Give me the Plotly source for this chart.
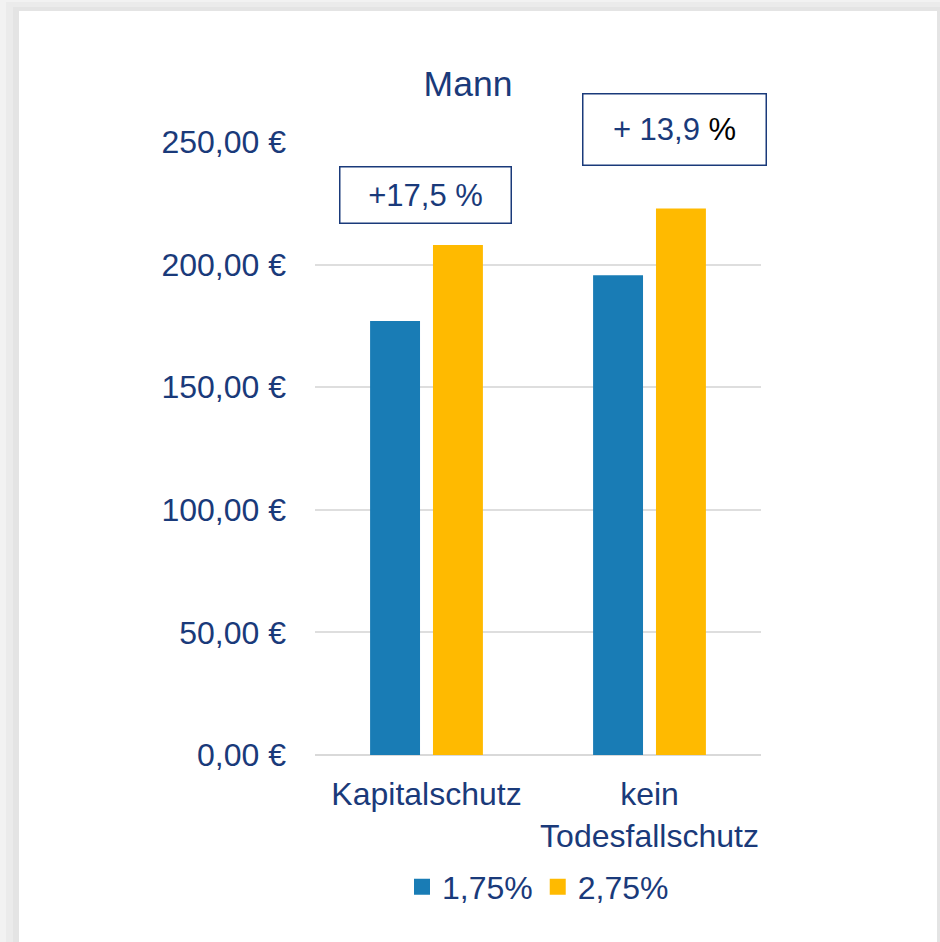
import plotly.graph_objects as go

categories = ["Kapitalschutz", "kein<br>Todesfallschutz"]
series_names = ["1,75%", "2,75%"]
values_175 = [177.0, 195.7]
values_275 = [208.0, 222.9]
changes = ["+17,5 %", "+ 13,9 <span style='color:#000000'>%</span>"]

NAVY = "#1a3a7a"
BLUE = "#197cb5"
GOLD = "#ffba00"
FONT = "Liberation Sans, Arial, sans-serif"

W, H = 940, 942
L, R, T, B = 315, 179, 142, 187
PW, PH = W - L - R, H - T - B


def px_x(px):
    return (px - L) / PW


def px_y(py):
    return (H - B - py) / PH


fig = go.Figure()
for name, vals, col in [(series_names[0], values_175, BLUE), (series_names[1], values_275, GOLD)]:
    fig.add_trace(go.Bar(x=categories, y=vals, name=name, marker=dict(color=col, line=dict(width=0)),
                         showlegend=False, hoverinfo="skip"))
for name, col in [(series_names[0], BLUE), (series_names[1], GOLD)]:
    fig.add_trace(go.Scatter(x=[None], y=[None], mode="markers", name=name,
                             marker=dict(symbol="square", size=16, color=col)))

shapes = [
    dict(type="rect", xref="paper", yref="paper", layer="below",
         x0=px_x(6), x1=px_x(945), y0=px_y(950), y1=px_y(2),
         fillcolor="#ebebeb", line=dict(width=0)),
    dict(type="rect", xref="paper", yref="paper", layer="below",
         x0=px_x(13), x1=px_x(945), y0=px_y(950), y1=px_y(7),
         fillcolor="#e4e4e4", line=dict(width=0)),
    dict(type="rect", xref="paper", yref="paper", layer="below",
         x0=px_x(19), x1=px_x(937), y0=px_y(950), y1=px_y(11),
         fillcolor="#ffffff", line=dict(width=0)),
]

annotations = [
    dict(text=changes[0], xref="paper", yref="paper", x=px_x(425.5), y=px_y(195),
         xanchor="center", yanchor="middle", showarrow=False, width=170, height=55,
         borderpad=0, borderwidth=1.5, bordercolor=NAVY, bgcolor="#ffffff",
         font=dict(size=31, color=NAVY, family=FONT)),
    dict(text=changes[1], xref="paper", yref="paper", x=px_x(674.5), y=px_y(129.5),
         xanchor="center", yanchor="middle", showarrow=False, width=182, height=70,
         borderpad=0, borderwidth=1.5, bordercolor=NAVY, bgcolor="#ffffff",
         font=dict(size=31, color=NAVY, family=FONT)),
]

fig.update_layout(
    width=W, height=H,
    margin=dict(l=L, r=R, t=T, b=B, pad=0),
    paper_bgcolor="#f2f2f2",
    plot_bgcolor="rgba(0,0,0,0)",
    separators=",.",
    font=dict(family=FONT, color=NAVY, size=32),
    title=dict(text="Mann", x=468 / W, xanchor="center", y=1 - 84 / H, yanchor="middle",
               font=dict(size=35.5, color=NAVY, family=FONT)),
    barmode="group", bargap=0.436, bargroupgap=0.206,
    showlegend=True,
    legend=dict(orientation="h", x=px_x(538), xanchor="center", y=px_y(887), yanchor="middle",
                font=dict(size=32, color=NAVY, family=FONT), bgcolor="rgba(0,0,0,0)",
                itemwidth=30),
    shapes=shapes,
    annotations=annotations,
)
fig.update_yaxes(range=[0, 250], dtick=50, tickformat=",.2f", ticksuffix=" €",
                 showgrid=True, gridcolor="#dedede", gridwidth=1.5,
                 zeroline=True, zerolinecolor="#d9d9d9", zerolinewidth=2,
                 showline=False, ticks="", ticklabelstandoff=28,
                 tickfont=dict(size=32, color=NAVY, family=FONT))
fig.update_xaxes(showline=False, ticks="", ticklabelstandoff=17,
                 tickfont=dict(size=32, color=NAVY, family=FONT))

fig.write_html("out.html", config={"displayModeBar": False},
               post_script="document.body.style.margin='0';document.body.style.padding='0';")
